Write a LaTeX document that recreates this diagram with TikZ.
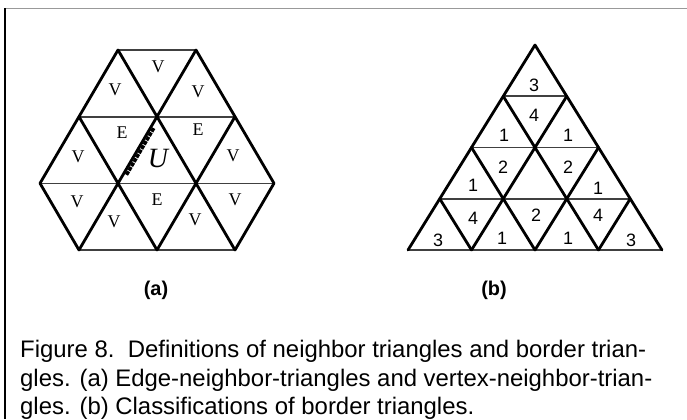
\documentclass[tikz,border=0pt]{standalone}
\usepackage{fontspec}
\setmainfont{Liberation Sans}
\newfontfamily\tms{Liberation Serif}
\usetikzlibrary{calc}

\begin{document}
\begin{tikzpicture}[
    x=1bp, y=-1bp,
    tri/.style={line width=2.8bp, line cap=round},
    rowline/.style={line width=1.6bp, black!75},
    frame/.style={line width=1.4bp},
    vlab/.style={inner sep=0pt, font=\tms\fontsize{18}{18}\selectfont},
    ulab/.style={inner sep=0pt, font=\tms\itshape\fontsize{28}{28}\selectfont},
    nlab/.style={inner sep=0pt, font=\fontsize{18}{18}\selectfont},
    part/.style={inner sep=0pt, font=\bfseries\fontsize{20}{20}\selectfont},
    captext/.style={inner sep=0pt, anchor=base west, font=\fontsize{24}{29}\selectfont}
]
    \useasboundingbox (0,0) rectangle (687,419);

    % Frame
    \draw[black!40, line width=1bp] (5,8) -- (687,8);
    \draw[frame] (5,8) -- (5,419);

    % (a) lattice points
    \coordinate (a10) at (118,50);   \coordinate (a11) at (196,50);
    \coordinate (a20) at (79,116.7); \coordinate (a21) at (157,116.7); \coordinate (a22) at (235,116.7);
    \coordinate (a30) at (40,183.3); \coordinate (a31) at (118,183.3); \coordinate (a32) at (196,183.3); \coordinate (a33) at (274,183.3);
    \coordinate (a40) at (79,250);   \coordinate (a41) at (157,250);   \coordinate (a42) at (235,250);

    % (a) rows
    \draw[rowline] (a10) -- (a11);
    \draw[rowline] (a20) -- (a22);
    \draw[rowline] (a30) -- (a33);
    \draw[rowline] (a40) -- (a42);

    % (a) slanted edges
    \draw[tri] (a10) -- (a30);
    \draw[tri] (a11) -- (a40);
    \draw[tri] (a22) -- (a41);
    \draw[tri] (a33) -- (a42);
    \draw[tri] (a30) -- (a40);
    \draw[tri] (a20) -- (a41);
    \draw[tri] (a10) -- (a42);
    \draw[tri] (a11) -- (a33);

    % shaded shared edge of U
    \draw[line width=3.5bp, black, dash pattern=on 4bp off 1bp]
        ($(a21)!0.15!(a31) + (2.6,1.5)$) -- ($(a21)!0.85!(a31) + (2.6,1.5)$);

    % (a) labels
    \node[vlab] (va1) at (115,90) {V};
    \node[vlab] (va2) at (158,67) {V};
    \node[vlab] (va3) at (198,92) {V};
    \node[vlab] (ea1) at (122,133) {E};
    \node[ulab] (ua)  at (158,158) {U};
    \node[vlab] (ea2) at (198,130) {E};
    \node[vlab] (va4) at (78,157) {V};
    \node[vlab] (va5) at (233,156) {V};
    \node[vlab] (va6) at (77,202) {V};
    \node[vlab] (va7) at (114,222) {V};
    \node[vlab] (ea3) at (157,200) {E};
    \node[vlab] (va8) at (195,220) {V};
    \node[vlab] (va9) at (235,200) {V};

    % (b) lattice points
    \coordinate (b00) at (535,45);
    \coordinate (b10) at (503.25,96.25); \coordinate (b11) at (566.75,96.25);
    \coordinate (b20) at (471.5,147.5);  \coordinate (b22) at (598.5,147.5);
    \coordinate (b30) at (439.75,198.75); \coordinate (b33) at (630.25,198.75);
    \coordinate (b40) at (408,250); \coordinate (b41) at (471.5,250); \coordinate (b42) at (535,250);
    \coordinate (b43) at (598.5,250); \coordinate (b44) at (662,250);

    % (b) rows
    \draw[rowline] (b10) -- (b11);
    \draw[rowline] (b20) -- (b22);
    \draw[rowline] (b30) -- (b33);
    \draw[rowline] (b40) -- (b44);

    % (b) slanted edges
    \draw[tri] (b00) -- (b40);
    \draw[tri] (b11) -- (b41);
    \draw[tri] (b22) -- (b42);
    \draw[tri] (b33) -- (b43);
    \draw[tri] (b00) -- (b44);
    \draw[tri] (b10) -- (b43);
    \draw[tri] (b20) -- (b42);
    \draw[tri] (b30) -- (b41);

    % (b) labels
    \node[nlab] (nb1)  at (534,85)  {3};
    \node[nlab] (nb2)  at (534,115) {4};
    \node[nlab] (nb3)  at (504,135) {1};
    \node[nlab] (nb4)  at (568,135) {1};
    \node[nlab] (nb5)  at (503,167) {2};
    \node[nlab] (nb6)  at (568,167) {2};
    \node[nlab] (nb7)  at (473,185) {1};
    \node[nlab] (nb8)  at (598,188) {1};
    \node[nlab] (nb9)  at (473,218) {4};
    \node[nlab] (nb10) at (536,215) {2};
    \node[nlab] (nb11) at (598,215) {4};
    \node[nlab] (nb12) at (438,240) {3};
    \node[nlab] (nb13) at (502,238) {1};
    \node[nlab] (nb14) at (568,238) {1};
    \node[nlab] (nb15) at (631,240) {3};

    % Panel names
    \node[part] (pa) at (156,290) {(a)};
    \node[part] (pb) at (494,290) {(b)};

    % Caption
    \node[captext] (cap1) at (20,357) {Figure 8.\ \ Definitions of neighbor triangles and border trian-};
    \node[captext] (cap2) at (20,386) {gles. (a) Edge-neighbor-triangles and vertex-neighbor-trian-};
    \node[captext] (cap3) at (20,414) {gles. (b) Classifications of border triangles.};

\end{tikzpicture}
\end{document}
